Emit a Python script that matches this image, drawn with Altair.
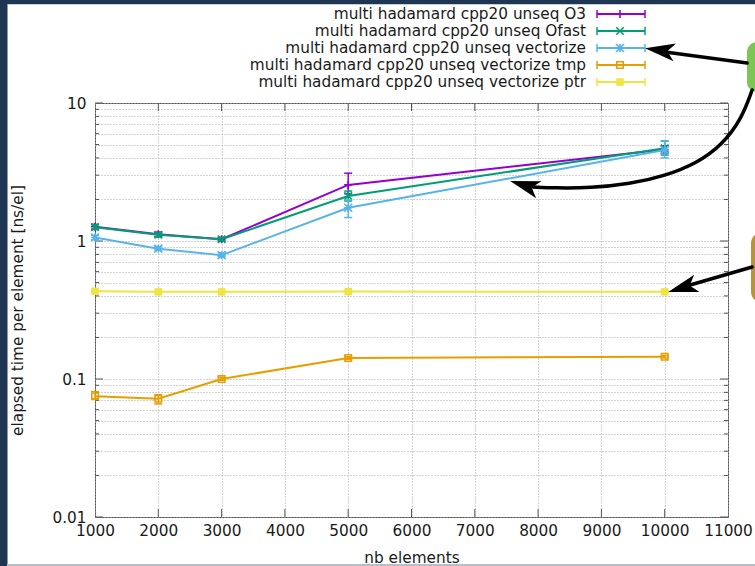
import altair as alt
import pandas as pd

# ---------------- measurements ----------------
nb_elements = [1000, 2000, 3000, 5000, 10000]

series_names = [
    "multi hadamard cpp20 unseq O3",
    "multi hadamard cpp20 unseq Ofast",
    "multi hadamard cpp20 unseq vectorize",
    "multi hadamard cpp20 unseq vectorize tmp",
    "multi hadamard cpp20 unseq vectorize ptr",
]
series_colors = ["#9400d3", "#009e73", "#56b4e9", "#e69f00", "#f0e442"]

o3_time = [1.27, 1.12, 1.03, 2.55, 4.60]
o3_low = [1.22, 1.08, 1.00, 2.20, 4.35]
o3_high = [1.32, 1.16, 1.06, 3.10, 4.90]

ofast_time = [1.26, 1.11, 1.03, 2.12, 4.70]
ofast_low = [1.21, 1.07, 1.00, 1.95, 4.20]
ofast_high = [1.31, 1.15, 1.06, 2.30, 5.30]

vect_time = [1.06, 0.88, 0.79, 1.74, 4.56]
vect_low = [1.02, 0.86, 0.77, 1.48, 4.00]
vect_high = [1.10, 0.91, 0.82, 1.98, 5.30]

tmp_time = [0.075, 0.072, 0.100, 0.142, 0.145]
tmp_low = [0.072, 0.066, 0.098, 0.139, 0.142]
tmp_high = [0.081, 0.077, 0.103, 0.145, 0.148]

ptr_time = [0.432, 0.428, 0.428, 0.430, 0.428]
ptr_low = [0.426, 0.422, 0.423, 0.425, 0.422]
ptr_high = [0.438, 0.434, 0.433, 0.436, 0.434]

means = [o3_time, ofast_time, vect_time, tmp_time, ptr_time]
lows = [o3_low, ofast_low, vect_low, tmp_low, ptr_low]
highs = [o3_high, ofast_high, vect_high, tmp_high, ptr_high]

x_ticks = [1000, 2000, 3000, 4000, 5000, 6000, 7000, 8000, 9000, 10000, 11000]
y_major = [0.01, 0.1, 1, 10]
y_minor = [round(m * d, 6) for d in [0.01, 0.1, 1] for m in range(2, 10)]

# gnuplot point types: +, x, *, open square, filled square
PLUS = "M-1,0L1,0M0,-1L0,1"
CROSS = "M-1,-1L1,1M-1,1L1,-1"
STAR = PLUS + CROSS
marker_shapes = [PLUS, CROSS, STAR, "square", "square"]
marker_filled = [False, False, False, False, True]
marker_sizes = [64, 56, 64, 42, 56]

FONT = "DejaVu Sans"
TEXT = "#1a1a1a"
FS = 15.3
W, H = 633, 414
GRID = dict(grid=True, gridColor="#a6a6a6", gridDash=[1, 2], gridWidth=1)

x_axis = alt.Axis(
    values=x_ticks, format="d", labelFont=FONT, labelFontSize=FS, labelColor=TEXT,
    labelPadding=6, labelFlush=False, labelOverlap=False, labelBound=False,
    ticks=False, domain=False, **GRID,
    title="nb elements", titleFont=FONT, titleFontSize=FS,
    titleFontWeight="normal", titleColor=TEXT, titlePadding=12,
)
y_axis = alt.Axis(
    values=y_major + y_minor,
    labelExpr="datum.value == 0.01 ? '0.01' : datum.value == 0.1 ? '0.1' : "
              "datum.value == 1 ? '1' : datum.value == 10 ? '10' : ''",
    labelFont=FONT, labelFontSize=FS, labelColor=TEXT, labelPadding=9,
    labelFlush=False, labelOverlap=False, labelBound=False,
    ticks=False, domain=False, **GRID,
    title="elapsed time per element [ns/el]", titleFont=FONT,
    titleFontSize=FS, titleFontWeight="normal", titleColor=TEXT,
    titleAngle=270, titleX=-78, titleY=H / 2, titleAlign="center",
    titleBaseline="middle",
)
x_scale = alt.Scale(domain=[1000, 11000], nice=False, zero=False)
y_scale = alt.Scale(type="log", domain=[0.01, 10], nice=False)


def xenc(field="x"):
    return alt.X(f"{field}:Q", scale=x_scale, axis=x_axis)


def yenc(field="y"):
    return alt.Y(f"{field}:Q", scale=y_scale, axis=y_axis)


one = pd.DataFrame({"k": [0]})
layers = []

# ---------------- inward tics on all four borders ----------------
ymaj_df = pd.DataFrame({"y": y_major})
ymin_df = pd.DataFrame({"y": y_minor})
xt_df = pd.DataFrame({"x": x_ticks[1:-1]})
tic = dict(color="#555555", strokeWidth=1)
for df, ln in [(ymaj_df, 8), (ymin_df, 4)]:
    layers.append(alt.Chart(df).mark_rule(**tic).encode(
        y=yenc(), x=alt.value(0), x2=alt.value(ln)))
    layers.append(alt.Chart(df).mark_rule(**tic).encode(
        y=yenc(), x=alt.value(W), x2=alt.value(W - ln)))
layers.append(alt.Chart(xt_df).mark_rule(**tic).encode(
    x=xenc(), y=alt.value(H), y2=alt.value(H - 8)))
layers.append(alt.Chart(xt_df).mark_rule(**tic).encode(
    x=xenc(), y=alt.value(0), y2=alt.value(8)))

# ---------------- data series (yerrorlines) ----------------
for i, name in enumerate(series_names):
    df = pd.DataFrame({"x": nb_elements, "y": means[i], "lo": lows[i], "hi": highs[i]})
    col = series_colors[i]
    base = alt.Chart(df)
    layers.append(base.mark_line(color=col, strokeWidth=2).encode(x=xenc(), y=yenc()))
    layers.append(base.mark_rule(color=col, strokeWidth=1.5).encode(
        x=xenc(), y=yenc("lo"), y2=alt.Y2("hi:Q")))
    for end in ["lo", "hi"]:
        layers.append(base.mark_rule(color=col, strokeWidth=1.5, xOffset=-4, x2Offset=4).encode(
            x=xenc(), x2=alt.X2("x:Q"), y=yenc(end)))
    layers.append(base.mark_point(
        shape=marker_shapes[i], filled=marker_filled[i], size=marker_sizes[i],
        color=col, strokeWidth=1.6, opacity=1).encode(x=xenc(), y=yenc()))

# ---------------- key (text left of sample) ----------------
key_rows = [-89, -72, -55, -38, -21]
for i, name in enumerate(series_names):
    col = series_colors[i]
    kd = pd.DataFrame({"name": [name]})
    ry = key_rows[i]
    layers.append(alt.Chart(kd).mark_text(
        align="right", baseline="middle", font=FONT, fontSize=FS, color=TEXT).encode(
        text="name:N", x=alt.value(491), y=alt.value(ry)))
    layers.append(alt.Chart(kd).mark_rule(color=col, strokeWidth=2).encode(
        x=alt.value(502), x2=alt.value(550), y=alt.value(ry)))
    for cx in (502, 550):
        layers.append(alt.Chart(kd).mark_rule(color=col, strokeWidth=1.5).encode(
            x=alt.value(cx), y=alt.value(ry - 4), y2=alt.value(ry + 4)))
    layers.append(alt.Chart(kd).mark_point(
        shape=marker_shapes[i], filled=marker_filled[i], size=marker_sizes[i],
        color=col, strokeWidth=1.6, opacity=1).encode(x=alt.value(525), y=alt.value(ry)))

# ---------------- slide frame and callouts ----------------
NAVY = "#1f3653"
frame = [
    (-95, -88, -103, 463, NAVY),
    (-95, 660, -103, -99, NAVY),
    (-88, 660, -99, -98, "#c9ced4"),
    (-88, -87, -99, 463, "#8d99a6"),
    (-88, 660, 461, 463, "#b4bfca"),
]
for x1, x2, y1, y2, c in frame:
    layers.append(alt.Chart(one).mark_rect(color=c).encode(
        x=alt.value(x1), x2=alt.value(x2), y=alt.value(y1), y2=alt.value(y2)))
layers.append(alt.Chart(one).mark_rect(color="#7cc656", cornerRadius=10).encode(
    x=alt.value(652), x2=alt.value(700), y=alt.value(-61), y2=alt.value(-11)))
layers.append(alt.Chart(one).mark_rect(color="#b8933f", cornerRadius=10).encode(
    x=alt.value(656), x2=alt.value(700), y=alt.value(130), y2=alt.value(199)))

# arrows, placed in data units (nb elements, ns/el)
arrow_key = pd.DataFrame({"x": [11302, 10006], "y": [19.5, 23.4]})
arrow_curve = pd.DataFrame({
    "x": [11381, 11223, 10907, 10512, 10006, 9453, 8821, 8268, 7920],
    "y": [12.42, 7.79, 4.96, 3.67, 2.96, 2.59, 2.42, 2.42, 2.46],
})
arrow_ptr = pd.DataFrame({"x": [11381, 10401], "y": [0.648, 0.480]})
for adf, interp in [(arrow_key, "linear"), (arrow_curve, "basis"), (arrow_ptr, "linear")]:
    layers.append(alt.Chart(adf).mark_line(
        color="black", strokeWidth=3.5, interpolate=interp, strokeCap="round").encode(
        x=xenc(), y=yenc()))
HEAD = "M-1,0L1,-0.6L0.5,0L1,0.6Z"
heads = [(9924, 24.1, 8), (7785, 2.53, 17), (10281, 0.459, 343)]
for hx, hy, ang in heads:
    hd = pd.DataFrame({"x": [hx], "y": [hy]})
    layers.append(alt.Chart(hd).mark_point(
        shape=HEAD, filled=True, size=900, angle=ang, color="black",
        opacity=1, strokeWidth=0).encode(x=xenc(), y=yenc()))

chart = alt.layer(*layers).properties(
    width=W, height=H,
    autosize=alt.AutoSizeParams(type="none"),
    padding={"left": 95, "top": 103, "right": 27, "bottom": 49},
    background="white",
).configure_view(stroke="#555555", strokeWidth=1)

chart.save("out.html", embed_options={"renderer": "svg", "actions": False})
